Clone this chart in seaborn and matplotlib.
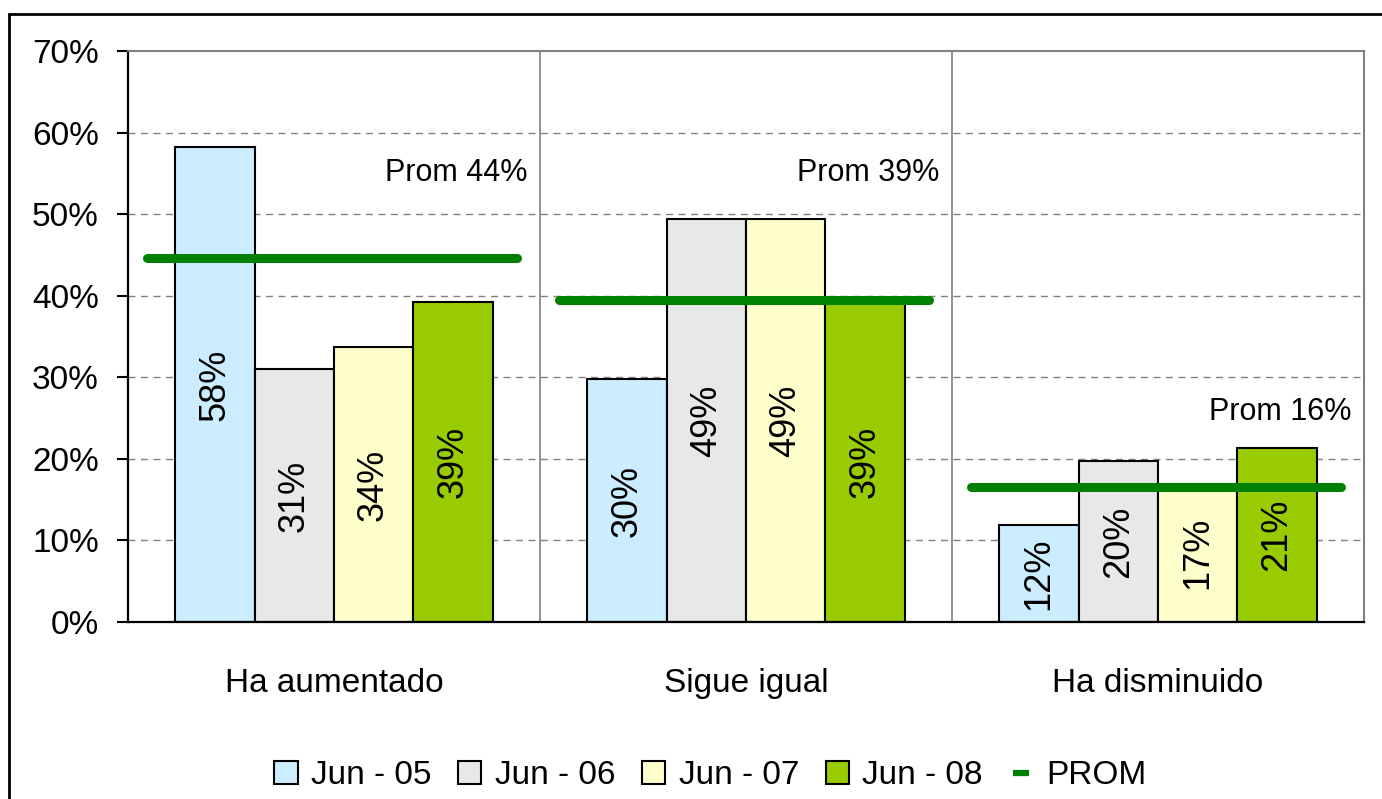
import numpy as np
import pandas as pd
import matplotlib
matplotlib.use("Agg")
import matplotlib.pyplot as plt
import matplotlib.patches as mpatches
from matplotlib.lines import Line2D
import seaborn as sns

# data
categories = ["Ha aumentado", "Sigue igual", "Ha disminuido"]
periods = ["Jun - 05", "Jun - 06", "Jun - 07", "Jun - 08"]
jun05 = [58.2, 29.8, 11.9]
jun06 = [31.0, 49.4, 19.7]
jun07 = [33.7, 49.4, 16.9]
jun08 = [39.3, 39.3, 21.3]
prom = [44.6, 39.5, 16.5]
prom_labels = ["Prom 44%", "Prom 39%", "Prom 16%"]
yticks = [0, 10, 20, 30, 40, 50, 60, 70]

colors = ["#CCECFF", "#E8E8E8", "#FFFFCC", "#99CC00"]
prom_color = "#008000"

rows = []
for p, vals in zip(periods, [jun05, jun06, jun07, jun08]):
    for c, v in zip(categories, vals):
        rows.append({"cat": c, "period": p, "val": v})
df = pd.DataFrame(rows)

sns.set_theme(style="white")
plt.rcParams["font.family"] = ["Liberation Sans", "DejaVu Sans"]
plt.rcParams["text.color"] = "black"
plt.rcParams["xtick.color"] = "black"
plt.rcParams["ytick.color"] = "black"

fig = plt.figure(figsize=(13.82, 7.99), dpi=100)
ax = fig.add_axes([0.0926, 0.2215, 0.8944, 0.7145])

sns.barplot(data=df, x="cat", y="val", hue="period", palette=colors,
            order=categories, hue_order=periods, width=0.77, saturation=1,
            edgecolor="black", linewidth=1.5, ax=ax, legend=False)

# value labels inside bars
for cont in ax.containers:
    labs = [f"{round(b.get_height()):.0f}%" for b in cont]
    ax.bar_label(cont, labels=labs, label_type="center", rotation=90,
                 fontsize=26, color="black")

# average lines + labels
for i, pv in enumerate(prom):
    ax.plot([i - 0.455, i + 0.445], [pv, pv], color=prom_color, lw=6.5,
            solid_capstyle="round", zorder=5)
label_y = [55.1, 55.1, 25.7]
for i, lab in enumerate(prom_labels):
    ax.text(i + 0.47, label_y[i], lab, ha="right", va="center", fontsize=22,
            color="black")

ax.set_xlim(-0.5, 2.5)
ax.set_ylim(0, 70)
ax.set_yticks(yticks)
ax.set_yticklabels([f"{t}%" for t in yticks], fontsize=24)
ax.set_xticks([0, 1, 2])
ax.set_xticklabels(categories, fontsize=24)
ax.set_xticks([-0.5, 0.5, 1.5, 2.5], minor=True)
ax.tick_params(axis="x", which="major", length=0, pad=33)
ax.tick_params(axis="x", which="minor", length=9, width=1.5, color="black")
ax.tick_params(axis="y", length=8, width=1.5, color="black", pad=13, left=True)
ax.set_xlabel("")
ax.set_ylabel("")

# grid
for t in yticks[1:-1]:
    ax.axhline(t, color="#808080", lw=1, ls=(0, (5, 4)), zorder=0)
for x in [0.5, 1.5]:
    ax.axvline(x, color="#808080", lw=1.2, zorder=0)

for s in ["left", "bottom"]:
    ax.spines[s].set_color("black")
    ax.spines[s].set_linewidth(1.6)
for s in ["top", "right"]:
    ax.spines[s].set_color("#808080")
    ax.spines[s].set_linewidth(1.5)

# legend
handles = [mpatches.Patch(facecolor=c, edgecolor="black", linewidth=1.5, label=p)
           for c, p in zip(colors, periods)]
handles.append(Line2D([0], [0], color=prom_color, ls="none", marker="_",
                      markersize=11, markeredgewidth=4.5, label="PROM"))
fig.legend(handles=handles, loc="center", bbox_to_anchor=(0.514, 0.029),
           ncol=5, frameon=False, fontsize=24, handlelength=0.7,
           handleheight=0.7, handletextpad=0.4, columnspacing=0.8)

# outer chart border
fig.patches.append(mpatches.Rectangle((0.0065, -0.1), 1.2, 1.0825, fill=False,
                                      edgecolor="black", lw=2,
                                      transform=fig.transFigure, clip_on=False))

fig.savefig("out.png", dpi=100)
